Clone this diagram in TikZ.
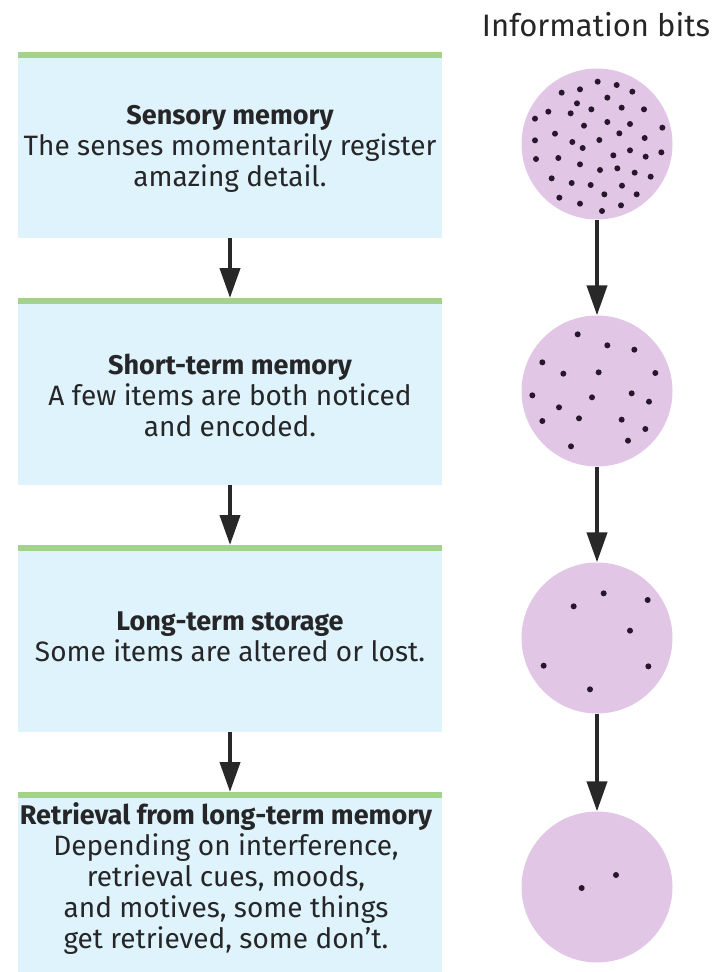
\documentclass[tikz,border=0pt]{standalone}
\usepackage{fontspec}
\setmainfont{Fira Sans}
\usetikzlibrary{arrows.meta}
\definecolor{boxblue}{RGB}{222,243,251}
\definecolor{bargreen}{RGB}{163,210,138}
\definecolor{circpink}{RGB}{225,198,230}
\definecolor{dotcol}{RGB}{40,22,45}
\definecolor{txt}{RGB}{38,38,40}
\definecolor{arr}{RGB}{40,40,40}
\newcommand{\ttl}[1]{{\fontsize{27}{31}\selectfont\bfseries #1}}
\begin{document}
\begin{tikzpicture}[x=1pt,y=-1pt,
  box/.style={fill=boxblue, draw=none, minimum width=424pt, inner sep=0pt, anchor=north},
  bar/.style={fill=bargreen, draw=none, minimum width=424pt, minimum height=6pt, inner sep=0pt, anchor=north},
  lbl/.style={text=txt, align=center, inner sep=0pt, font=\fontsize{28}{31}\selectfont},
  bubble/.style={circle, fill=circpink, draw=none, minimum size=151pt, inner sep=0pt},
  flow/.style={draw=arr, line width=4pt, -{Triangle[width=20pt,length=30pt]}},
  dot/.style={fill=dotcol}]
\useasboundingbox (0,0) rectangle (726,972);

% boxes
\node[box, minimum height=186pt] (b1) at (230,52) {};
\node[box, minimum height=187pt] (b2) at (230,298) {};
\node[box, minimum height=187pt] (b3) at (230,545) {};
\node[box, minimum height=180pt] (b4) at (230,792) {};
\node[bar] (g1) at (230,52) {};
\node[bar] (g2) at (230,298) {};
\node[bar] (g3) at (230,545) {};
\node[bar] (g4) at (230,792) {};

% texts
\node[lbl] (t1) at (230,149) {\ttl{Sensory memory}\\The senses momentarily register\\amazing detail.};
\node[lbl] (t2) at (230,395) {\ttl{Short-term memory}\\A few items are both noticed\\and encoded.};
\node[lbl] (t3) at (230,637) {\ttl{Long-term storage}\\Some items are altered or lost.};
\node[lbl] (t4) at (226,879) {\ttl{Retrieval from long-term memory}\\Depending on interference,\\retrieval cues, moods,\\and motives, some things\\get retrieved, some don’t.};

% box arrows
\draw[flow] (b1.south) -- (g2.north);
\draw[flow] (b2.south) -- (g3.north);
\draw[flow] (b3.south) -- (g4.north);

% heading
\node[lbl, font=\fontsize{31}{34}\selectfont] (hd) at (596,25) {Information bits};

% circles
\node[bubble] (c1) at (597,144) {};
\node[bubble] (c2) at (597,391) {};
\node[bubble] (c3) at (597,638) {};
\node[bubble] (c4) at (597,887) {};
\draw[flow] (c1.south) -- (c2.north);
\draw[flow] (c2.south) -- (c3.north);
\draw[flow] (c3.south) -- (c4.north);

% dots
\foreach \a/\b in {293/65,350/75,397/95,185/98,240/88,322/113,231/130,145/155,212/160,274/148,365/143,432/148,105/176,322/186,252/197,390/192,487/203,165/221,358/220,217/246,298/240,434/234,105/241,248/264,390/271,484/277,108/297,175/294,340/286,437/290,240/313,300/330,352/325,404/338,452/350,155/355,215/369,272/375,366/377,178/413,313/403,410/403,240/431,363/436,306/453}
  \fill[dot] (500+\a/3,60+\b/3) circle (3pt);
\foreach \a/\b in {233/103,322/136,403/149,127/187,190/221,296/217,466/219,97/286,276/292,395/280,447/305,177/322,237/355,127/363,365/359,436/387,384/422,213/439}
  \fill[dot] (500+\a/3,300+\b/3) circle (3pt);
\foreach \a/\b in {311/130,221/169,443/150,390/242,131/347,445/349,270/418}
  \fill[dot] (500+\a/3,550+\b/3) circle (3pt);
\foreach \a/\b in {348/285,245/324}
  \fill[dot] (500+\a/3,780+\b/3) circle (3pt);
\end{tikzpicture}
\end{document}
